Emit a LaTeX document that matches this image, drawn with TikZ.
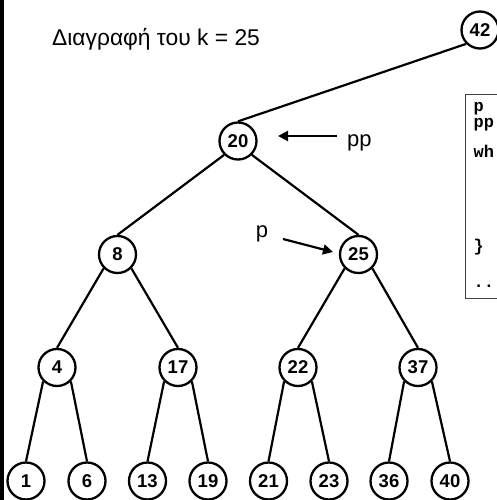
\documentclass[tikz,border=0pt]{standalone}
\usepackage{fontspec}
\setmainfont{Liberation Sans}
\setmonofont{Liberation Mono}
\usetikzlibrary{arrows.meta}

\begin{document}
\begin{tikzpicture}[x=1pt,y=-1pt]
\tikzstyle{every node}+=[inner sep=0pt]
\tikzstyle{key}=[draw,circle,line width=2.3pt,minimum size=37pt,font=\fontsize{18.5}{18.5}\selectfont\bfseries]
\tikzstyle{edge}=[line width=2.2pt]
\tikzstyle{ptr}=[line width=2.2pt,-{Triangle[length=10pt,width=10pt]}]
\tikzstyle{label}=[font=\fontsize{22}{22}\selectfont]
\tikzstyle{code}=[anchor=base west,font=\fontsize{17}{17}\selectfont\ttfamily\bfseries]
\useasboundingbox (0,0) rectangle (497,500);
\fill [black] (0,0) rectangle (3.5,500);
\node [anchor=base west,font=\fontsize{22.8}{22.8}\selectfont] (title) at (52,46) {Διαγραφή του k = 25};
% keys of the tree
\node [key] (n42) at (480,30) {42};
\node [key] (n20) at (238,141) {20};
\node [key] (n8) at (117.5,254.5) {8};
\node [key] (n25) at (358.5,254.5) {25};
\node [key] (n4) at (57,367.5) {4};
\node [key] (n17) at (178,367.5) {17};
\node [key] (n22) at (298,367.5) {22};
\node [key] (n37) at (418,367.5) {37};
\node [key] (n1) at (26,481) {1};
\node [key] (n6) at (87,481) {6};
\node [key] (n13) at (147.5,481) {13};
\node [key] (n19) at (208,481) {19};
\node [key] (n21) at (268.5,481) {21};
\node [key] (n23) at (329,481) {23};
\node [key] (n36) at (389,481) {36};
\node [key] (n40) at (450,481) {40};
\draw [edge] (n42.south west) -- (n20.north);
\draw [edge] (n20.south west) -- (n8.north);
\draw [edge] (n20.south east) -- (n25.north);
\draw [edge] (n8.south west) -- (n4.north);
\draw [edge] (n8.south east) -- (n17.north);
\draw [edge] (n25.south west) -- (n22.north);
\draw [edge] (n25.south east) -- (n37.north);
\draw [edge] (n4.south west) -- (n1.north);
\draw [edge] (n4.south east) -- (n6.north);
\draw [edge] (n17.south west) -- (n13.north);
\draw [edge] (n17.south east) -- (n19.north);
\draw [edge] (n22.south west) -- (n21.north);
\draw [edge] (n22.south east) -- (n23.north);
\draw [edge] (n37.south west) -- (n36.north);
\draw [edge] (n37.south east) -- (n40.north);
% pointers
\node [label,anchor=base west] (pp) at (347,146) {pp};
\coordinate (pptail) at (337,136);
\coordinate (pphead) at (278,136);
\draw [ptr] (pptail) -- (pphead);
\node [label] (p) at (262,234) {p};
\coordinate (ptail) at (283,239);
\coordinate (phead) at (333,252);
\draw [ptr] (ptail) -- (phead);
% code listing at the side
\draw [line width=1pt,black!75] (465,95) rectangle (540,298);
\node [code] (c1) at (473.5,112) {p};
\node [code] (c2) at (473.5,128) {pp};
\node [code] (c3) at (473.5,157) {wh};
\node [code] (c4) at (473.5,251) {\}};
\node [code] (c5) at (473.5,287) {..};
\end{tikzpicture}
\end{document}
